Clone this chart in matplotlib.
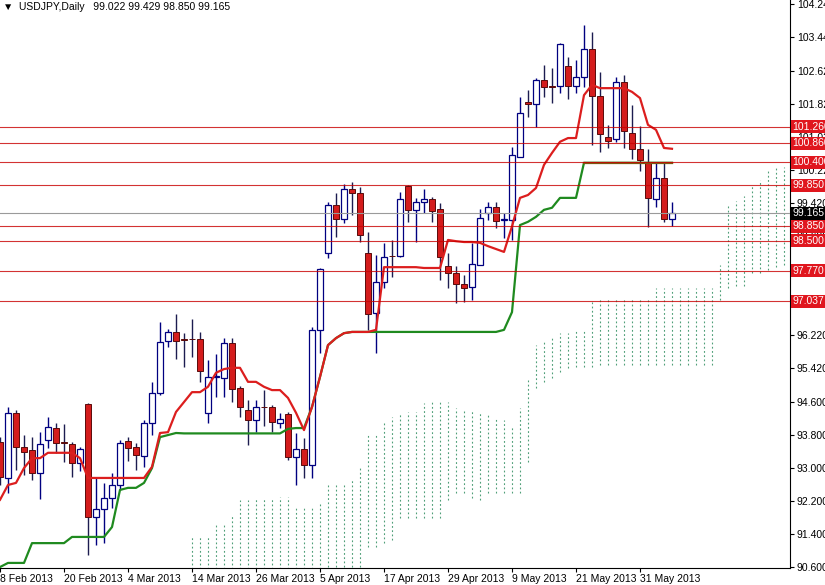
import matplotlib
matplotlib.use("Agg")
import matplotlib.pyplot as plt
import matplotlib.transforms as mtransforms
import numpy as np

plt.rcParams.update({"font.family": ["Liberation Sans", "DejaVu Sans"], "font.size": 7})

# daily USDJPY candles, 8 Feb 2013 .. 6 Jun 2013, one per trading day
opens = [93.62, 92.75, 94.33, 93.50, 93.43, 92.87, 93.67, 93.96, 93.60, 93.57,
         93.11, 94.54, 91.80, 92.00, 92.26, 92.58, 93.65, 93.50, 93.28, 94.08,
         94.81, 96.07, 96.29, 96.10, 96.12, 96.12, 94.33, 95.20, 95.17, 96.02,
         94.93, 94.40, 94.16, 94.47, 94.47, 94.08, 94.30, 93.26, 93.45, 93.06,
         96.34, 98.20, 99.37, 99.03, 99.76, 99.66, 98.20, 96.75, 97.50, 98.13,
         98.13, 99.83, 99.25, 99.44, 99.51, 99.27, 97.89, 97.72, 97.45, 97.38,
         97.91, 99.17, 99.32, 99.00, 99.00, 100.53, 101.86, 101.82, 102.40, 102.23,
         102.25, 102.74, 102.25, 102.47, 103.15, 102.01, 101.02, 100.97, 102.35, 101.11,
         100.73, 100.41, 99.51, 100.02, 99.022]
highs = [93.74, 94.47, 94.40, 93.79, 93.74, 93.86, 94.23, 94.08, 94.06, 93.62,
         93.50, 94.57, 92.77, 92.63, 92.87, 93.67, 93.74, 93.60, 94.16, 95.08,
         96.53, 96.36, 96.72, 96.26, 96.60, 96.29, 95.61, 95.76, 96.14, 96.14,
         94.98, 94.64, 94.64, 94.88, 94.52, 94.33, 94.35, 93.84, 93.72, 96.41,
         97.84, 99.44, 99.66, 99.88, 99.93, 99.80, 98.71, 98.16, 98.45, 98.52,
         99.68, 99.85, 99.54, 99.76, 99.56, 99.42, 98.20, 97.89, 97.67, 98.45,
         99.27, 99.44, 99.44, 99.17, 100.77, 101.99, 102.16, 102.45, 102.76, 102.69,
         103.30, 102.96, 102.88, 103.73, 103.56, 102.59, 101.31, 102.47, 102.52, 101.79,
         101.28, 100.73, 100.39, 100.41, 99.429]
lows = [92.58, 92.39, 92.94, 92.82, 92.70, 92.24, 93.48, 93.36, 93.14, 92.77,
        92.92, 90.88, 91.13, 91.17, 92.02, 92.46, 93.16, 92.94, 93.02, 93.79,
        94.76, 95.92, 95.63, 95.44, 95.68, 95.08, 94.08, 94.71, 94.71, 94.59,
        94.23, 93.55, 93.86, 94.01, 93.86, 93.96, 93.19, 92.58, 92.75, 92.75,
        95.78, 98.08, 98.59, 98.93, 99.13, 98.47, 96.34, 95.78, 97.36, 97.62,
        98.11, 98.96, 98.47, 99.17, 98.96, 97.55, 97.36, 96.99, 97.02, 97.06,
        97.91, 99.00, 98.81, 98.57, 98.52, 100.53, 101.50, 101.26, 101.99, 101.84,
        102.08, 101.94, 102.08, 102.23, 100.82, 100.65, 100.75, 100.90, 100.75, 100.48,
        100.19, 98.83, 99.32, 98.96, 98.850]
closes = [92.77, 94.33, 93.50, 93.38, 92.87, 93.57, 93.99, 93.60, 93.59, 93.11,
          93.45, 91.80, 92.00, 92.26, 92.58, 93.60, 93.48, 93.31, 94.08, 94.81,
          96.05, 96.29, 96.07, 96.09, 96.11, 95.34, 95.20, 95.22, 96.02, 94.91,
          94.47, 94.16, 94.47, 94.46, 94.11, 94.18, 93.26, 93.45, 93.06, 96.34,
          97.82, 99.37, 99.03, 99.76, 99.66, 98.64, 96.73, 97.50, 98.11, 98.12,
          99.51, 99.25, 99.44, 99.51, 99.22, 98.11, 97.72, 97.45, 97.36, 97.94,
          99.05, 99.32, 98.98, 99.01, 100.58, 101.60, 101.82, 102.40, 102.23, 102.22,
          103.27, 102.25, 102.47, 103.15, 102.01, 101.09, 100.92, 102.35, 101.16, 100.73,
          100.46, 99.54, 100.02, 99.03, 99.165]

# Ichimoku tenkan-sen (red) and kijun-sen (green)
tenkan = [92.22, 92.58, 92.63, 92.99, 93.23, 93.23, 93.36, 93.36, 93.36, 93.36,
          93.23, 92.75, 92.75, 92.75, 92.75, 92.75, 92.75, 92.75, 92.75, 93.02,
          93.84, 93.86, 94.35, 94.59, 94.83, 94.83, 94.96, 95.30, 95.39, 95.42,
          95.42, 95.08, 95.08, 94.96, 94.88, 94.88, 94.69, 94.33, 93.91, 94.47,
          95.20, 95.97, 96.14, 96.26, 96.29, 96.29, 96.29, 96.34, 97.86, 97.86,
          97.86, 97.86, 97.86, 97.84, 97.84, 97.84, 98.52, 98.49, 98.47, 98.47,
          98.45, 98.37, 98.30, 98.23, 98.85, 99.54, 99.61, 99.78, 100.34, 100.63,
          100.90, 100.99, 100.99, 102.03, 102.28, 102.20, 102.20, 102.20, 102.20, 102.11,
          101.96, 101.31, 101.19, 100.75, 100.73]
kijun = [90.59, 90.69, 90.69, 90.69, 91.17, 91.17, 91.17, 91.17, 91.17, 91.32,
         91.32, 91.32, 91.32, 91.32, 91.56, 92.46, 92.51, 92.51, 92.63, 92.99,
         93.74, 93.79, 93.84, 93.83, 93.83, 93.83, 93.83, 93.83, 93.83, 93.83,
         93.83, 93.83, 93.83, 93.83, 93.83, 93.83, 93.94, 93.96, 93.96, 94.47,
         95.20, 95.97, 96.14, 96.26, 96.29, 96.29, 96.29, 96.29, 96.29, 96.29,
         96.29, 96.29, 96.29, 96.29, 96.29, 96.29, 96.29, 96.29, 96.29, 96.29,
         96.29, 96.29, 96.29, 96.34, 96.77, 98.88, 98.96, 99.08, 99.25, 99.30,
         99.54, 99.54, 99.54, 100.39, 100.39, 100.39, 100.39, 100.39, 100.39, 100.39,
         100.39, 100.39, 100.39, 100.39, 100.39]
kijun_flat_from = 73   # kijun lies on the 100.400 level from here (drawn brownish)

# kumo (cloud) upper / lower edge, starting at bar 24 and shifted past the last bar
cloud_start = 24
cloud_top = [91.32, 91.32, 91.32, 91.66, 91.66, 91.85, 92.22, 92.22, 92.26, 92.26,
             92.26, 92.29, 92.29, 92.05, 92.05, 92.05, 92.14, 92.58, 92.63, 92.63,
             92.70, 92.99, 93.79, 93.79, 94.11, 94.23, 94.33, 94.35, 94.35, 94.57,
             94.59, 94.59, 94.59, 94.45, 94.40, 94.40, 94.33, 94.33, 94.23, 94.16,
             93.99, 94.45, 95.17, 95.97, 96.10, 96.17, 96.26, 96.26, 96.34, 96.34,
             97.02, 97.11, 97.11, 97.11, 97.11, 97.11, 97.11, 97.11, 97.35, 97.35,
             97.35, 97.35, 97.35, 97.35, 97.35, 97.35, 97.91, 99.39, 99.46, 99.59,
             99.85, 99.97, 100.24, 100.26, 100.29]
cloud_bot = [89.50, 89.50, 89.50, 89.50, 89.50, 89.50, 89.50, 89.50, 89.50, 89.50,
             89.50, 89.50, 89.50, 89.50, 89.50, 89.50, 89.50, 90.59, 90.59, 90.59,
             90.59, 90.59, 91.08, 91.08, 91.17, 91.25, 91.78, 91.78, 91.78, 91.78,
             91.78, 91.78, 92.22, 92.39, 92.39, 92.26, 92.22, 92.39, 92.39, 92.39,
             92.39, 92.39, 93.14, 94.93, 95.08, 95.17, 95.32, 95.42, 95.44, 95.44,
             95.44, 95.49, 95.49, 95.49, 95.49, 95.49, 95.49, 95.49, 95.49, 95.49,
             95.49, 95.49, 95.49, 95.49, 95.49, 95.49, 97.06, 97.35, 97.40, 97.40,
             97.72, 97.72, 97.79, 97.86, 97.91]

levels = [101.260, 100.860, 100.400, 99.850, 98.850, 98.500, 97.770, 97.037]
last_price = 99.165

price_ticks = [104.240, 103.440, 102.620, 101.820, 101.020, 100.220, 99.420, 98.620,
               96.220, 95.420, 94.600, 93.800, 93.000, 92.200, 91.400, 90.600]
date_labels = ["8 Feb 2013", "20 Feb 2013", "4 Mar 2013", "14 Mar 2013", "26 Mar 2013",
               "5 Apr 2013", "17 Apr 2013", "29 Apr 2013", "9 May 2013", "21 May 2013",
               "31 May 2013"]
date_every = 8

BULL = "#000080"
BEAR = "#d41c1c"
LEVEL = "#c80000"

fig = plt.figure(figsize=(8.25, 5.85), dpi=100)
ax = fig.add_axes([0, 17 / 585, 790 / 825, 568 / 585])

# cloud as dotted verticals
cx = np.arange(cloud_start, cloud_start + len(cloud_top))
ax.vlines(cx, cloud_bot, cloud_top, colors="#4f9f78", linestyles=(0, (1.6, 2.2)),
          linewidth=0.8, zorder=1)

# candles
o = np.array(opens); h = np.array(highs); l = np.array(lows); c = np.array(closes)
x = np.arange(len(o))
up = c >= o
ax.vlines(x[up], l[up], h[up], colors=BULL, linewidth=1.0, zorder=2)
ax.vlines(x[~up], l[~up], h[~up], colors="#1c1c50", linewidth=1.0, zorder=2)
body = np.maximum(np.abs(c - o), 0.02)
ax.bar(x[up], body[up], 0.68, bottom=o[up], color="white", edgecolor=BULL,
       linewidth=0.9, zorder=3)
ax.bar(x[~up], body[~up], 0.68, bottom=c[~up], color=BEAR, edgecolor="#5a0a0a",
       linewidth=0.7, zorder=3)

# tenkan / kijun
ax.plot(x, kijun, color="#1f8a1f", lw=1.6, zorder=4, solid_joinstyle="round")
ax.plot(x[kijun_flat_from:], kijun[kijun_flat_from:], color="#7a5a12", lw=1.6, zorder=4)
ax.plot(x, tenkan, color="#dc1e1e", lw=1.6, zorder=4, solid_joinstyle="round")

# horizontal levels
for v in levels:
    ax.axhline(v, color=LEVEL, lw=0.8, alpha=0.8, zorder=5)
ax.axhline(last_price, color="#9a9a9a", lw=0.8, zorder=5)

ax.set_xlim(0, 790 / 8)
ax.set_ylim(90.567, 104.337)

for s in ["top", "left"]:
    ax.spines[s].set_visible(False)
ax.spines["right"].set_color("black")
ax.spines["bottom"].set_color("black")

ax.yaxis.tick_right()
ax.set_yticks(price_ticks)
ax.set_yticklabels([f"{v:.3f}" for v in price_ticks])
ax.tick_params(axis="y", length=3, width=0.8, pad=2, labelsize=7.5, colors="black")

dx = np.arange(len(date_labels)) * date_every
ax.set_xticks(dx)
ax.set_xticklabels(date_labels, ha="left")
ax.tick_params(axis="x", length=3, width=0.8, pad=1, labelsize=7.5)

# price labels on the right scale
trans = mtransforms.blended_transform_factory(ax.transAxes, ax.transData)
for v in levels:
    ax.text(1.003, v, f"{v:.3f}", transform=trans, color="white", fontsize=7.5,
            va="center", ha="left", clip_on=False, zorder=10,
            bbox=dict(boxstyle="square,pad=0.15", fc="#e0161e", ec="none"))
ax.text(1.003, last_price, f"{last_price:.3f}", transform=trans, color="white", fontsize=7.5,
        va="center", ha="left", clip_on=False, zorder=11,
        bbox=dict(boxstyle="square,pad=0.15", fc="black", ec="none"))

ax.text(0.004, 0.997, "\u25BC  USDJPY,Daily   99.022 99.429 98.850 99.165",
        transform=ax.transAxes, va="top", ha="left", fontsize=7.5)

fig.savefig("out.png", dpi=100)
